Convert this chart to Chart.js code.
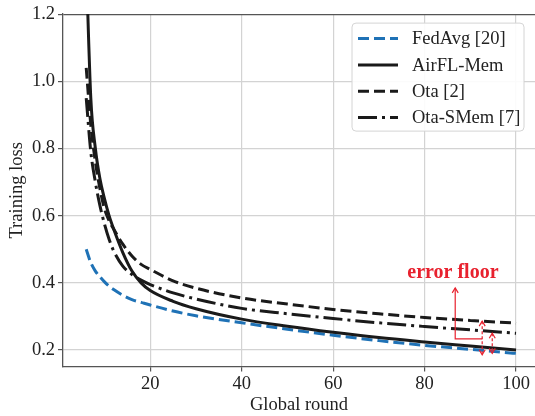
<!DOCTYPE html>
<html>
<head>
<meta charset="utf-8">
<script src="https://cdn.jsdelivr.net/npm/chart.js@4.4.1/dist/chart.umd.min.js"></script>
<style>
  html, body { margin: 0; padding: 0; background: #fff; }
  #holder { width: 535px; height: 416px; }
</style>
</head>
<body>
<div id="holder"><canvas id="lossChart" width="535" height="416"></canvas></div>
<script>
// Values, one array per curve
const rounds = [6, 7, 8, 9, 10, 11, 12, 14, 16, 18, 20, 25, 30, 40, 50, 60, 70, 80, 90, 100];
const fedAvgLoss = [0.50, 0.46, 0.435, 0.418, 0.403, 0.39, 0.38, 0.363, 0.35, 0.342, 0.334, 0.316, 0.302, 0.281, 0.262, 0.244, 0.228, 0.214, 0.202, 0.19];
const airflMemLoss = [1.35, 0.95, 0.80, 0.71, 0.65, 0.60, 0.56, 0.49, 0.435, 0.40, 0.377, 0.345, 0.323, 0.292, 0.271, 0.253, 0.237, 0.224, 0.212, 0.20];
const otaLoss = [1.04, 0.87, 0.76, 0.68, 0.62, 0.585, 0.56, 0.515, 0.48, 0.455, 0.44, 0.406, 0.384, 0.355, 0.337, 0.321, 0.308, 0.297, 0.288, 0.28];
const otaSMemLoss = [0.95, 0.79, 0.70, 0.63, 0.575, 0.53, 0.495, 0.45, 0.425, 0.408, 0.395, 0.37, 0.352, 0.324, 0.308, 0.294, 0.281, 0.27, 0.26, 0.25];
const seriesNames = ['FedAvg [20]', 'AirFL-Mem', 'Ota [2]', 'Ota-SMem [7]'];
const xTicks = [20, 40, 60, 80, 100];
const yTicks = [0.2, 0.4, 0.6, 0.8, 1.0, 1.2];

// "error floor" note, given in data units (round, loss)
const floorLabel = 'error floor';
const floorLabelAt = [86.2, 0.43];
const floorLeader = [[86.7, 0.385], [86.7, 0.233], [92.6, 0.233]];
const floorSpans = [[92.6, 0.286, 0.186], [94.8, 0.25, 0.19]];

const serif = '"Liberation Serif", "DejaVu Serif", serif';
const red = '#e8212e';

function toPoints(values) {
    return rounds.map((r, i) => ({ x: r, y: values[i] }));
}

const lineDefaults = {
    borderWidth: 3,
    pointRadius: 0,
    fill: false,
    cubicInterpolationMode: 'monotone'
};

const datasets = [
    { label: seriesNames[0], data: toPoints(fedAvgLoss), borderColor: '#1f72b6', borderDash: [11, 5], order: 3 },
    { label: seriesNames[1], data: toPoints(airflMemLoss), borderColor: '#1a1a1a', borderDash: [], order: 2 },
    { label: seriesNames[2], data: toPoints(otaLoss), borderColor: '#1a1a1a', borderDash: [11, 5], order: 1 },
    { label: seriesNames[3], data: toPoints(otaSMemLoss), borderColor: '#1a1a1a', borderDash: [19, 5, 3, 5], order: 0 }
].map(d => Object.assign({}, lineDefaults, d));

// little "V" arrow head pointing along (dx, dy)
function arrowHead(ctx, x, y, dx, dy, size) {
    const len = Math.hypot(dx, dy);
    const ux = dx / len, uy = dy / len;
    ctx.beginPath();
    ctx.moveTo(x - ux * size - uy * size * 0.6, y - uy * size + ux * size * 0.6);
    ctx.lineTo(x, y);
    ctx.lineTo(x - ux * size + uy * size * 0.6, y - uy * size - ux * size * 0.6);
    ctx.stroke();
}

const overlayPlugin = {
    id: 'overlay',
    afterDatasetsDraw(chart) {
        const { ctx, scales: { x, y } } = chart;
        const px = v => x.getPixelForValue(v);
        const py = v => y.getPixelForValue(v);
        ctx.save();
        ctx.strokeStyle = red;
        ctx.lineWidth = 1.2;
        ctx.setLineDash([]);

        // solid leader with the arrow going up to the label
        ctx.beginPath();
        floorLeader.forEach((p, i) => {
            if (i === 0) ctx.moveTo(px(p[0]), py(p[1]));
            else ctx.lineTo(px(p[0]), py(p[1]));
        });
        ctx.stroke();
        arrowHead(ctx, px(floorLeader[0][0]), py(floorLeader[0][1]), 0, -1, 5);

        // dashed double arrows showing the gaps
        floorSpans.forEach(s => {
            const sx = px(s[0]), y1 = py(s[1]), y2 = py(s[2]);
            ctx.setLineDash([3, 2]);
            ctx.beginPath();
            ctx.moveTo(sx, y1);
            ctx.lineTo(sx, y2);
            ctx.stroke();
            ctx.setLineDash([]);
            arrowHead(ctx, sx, y1, 0, -1, 5);
            arrowHead(ctx, sx, y2, 0, 1, 5);
        });

        ctx.fillStyle = red;
        ctx.font = 'bold 20px ' + serif;
        ctx.textAlign = 'center';
        ctx.textBaseline = 'middle';
        ctx.fillText(floorLabel, px(floorLabelAt[0]), py(floorLabelAt[1]));
        ctx.restore();
    },
    afterDraw(chart) {
        // matplotlib style legend box in the upper right
        const { ctx, chartArea } = chart;
        const boxW = 172, boxH = 108;
        const left = chartArea.right - 11 - boxW;
        const top = chartArea.top + 9;
        ctx.save();
        ctx.beginPath();
        ctx.roundRect(left, top, boxW, boxH, 4);
        ctx.fillStyle = 'rgba(255,255,255,0.9)';
        ctx.fill();
        ctx.strokeStyle = '#d4d4d4';
        ctx.lineWidth = 1;
        ctx.stroke();

        ctx.font = '18.5px ' + serif;
        ctx.textBaseline = 'middle';
        ctx.textAlign = 'left';
        chart.data.datasets.forEach((ds, i) => {
            const rowY = top + 15.5 + i * 26.3;
            ctx.strokeStyle = ds.borderColor;
            ctx.lineWidth = ds.borderWidth;
            ctx.setLineDash(ds.borderDash);
            ctx.beginPath();
            ctx.moveTo(left + 6, rowY);
            ctx.lineTo(left + 46, rowY);
            ctx.stroke();
            ctx.setLineDash([]);
            ctx.fillStyle = '#222';
            ctx.fillText(ds.label, left + 60, rowY + 1);
        });
        ctx.restore();
    }
};

const tickFont = { family: serif, size: 18.5 };

new Chart(document.getElementById('lossChart').getContext('2d'), {
    type: 'line',
    data: { datasets: datasets },
    options: {
        responsive: false,
        animation: false,
        devicePixelRatio: 1,
        layout: { padding: { top: 13.5, left: 0, right: 0, bottom: 0 } },
        scales: {
            x: {
                type: 'linear',
                min: 0.92,
                max: 104.15,
                afterBuildTicks: s => { s.ticks = xTicks.map(v => ({ value: v })); },
                afterFit: s => { s.height = 49.5; },
                grid: { color: '#d3d3d3', lineWidth: 1.2, tickLength: 5, tickColor: '#555', tickWidth: 1.2 },
                border: { color: '#555', width: 1.3 },
                ticks: { color: '#222', font: tickFont, padding: 2, maxRotation: 0 },
                title: { display: true, text: 'Global round', color: '#222', font: tickFont, padding: { top: 0, bottom: 0 } }
            },
            y: {
                min: 0.151,
                max: 1.2,
                afterBuildTicks: s => { s.ticks = yTicks.map(v => ({ value: v })); },
                afterFit: s => { s.width = 63; },
                grid: {
                    // the 1.2 line doubles as the top spine
                    color: c => (c.tick && c.tick.value === 1.2) ? '#555' : '#d3d3d3',
                    lineWidth: 1.2, tickLength: 5, tickColor: '#555', tickWidth: 1.2
                },
                border: { color: '#555', width: 1.3 },
                ticks: { color: '#222', font: tickFont, padding: 3, callback: v => v.toFixed(1) },
                title: { display: true, text: 'Training loss', color: '#222', font: tickFont, padding: { top: 6, bottom: 0 } }
            }
        },
        plugins: {
            legend: { display: false },
            tooltip: { enabled: false }
        }
    },
    plugins: [overlayPlugin]
});
</script>
</body>
</html>
